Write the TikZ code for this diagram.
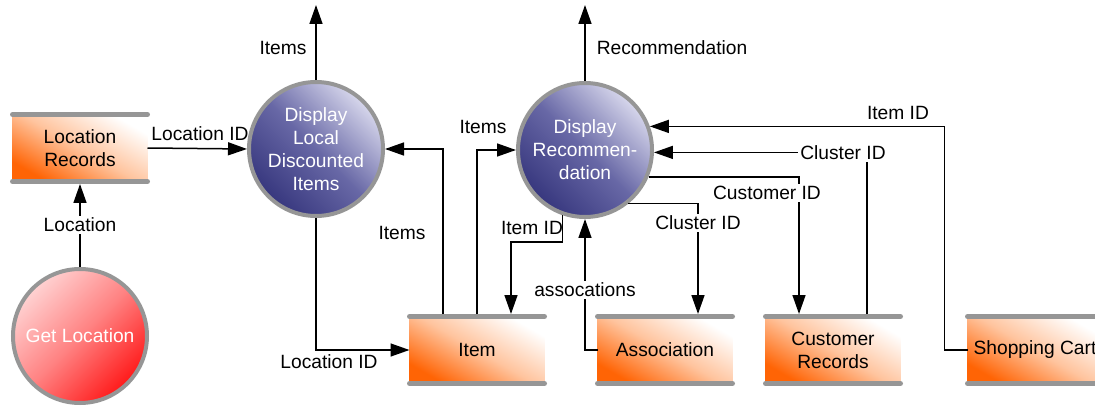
\documentclass[tikz,border=0pt]{standalone}
\usepackage{fontspec}
\setmainfont{Liberation Sans}
\usetikzlibrary{arrows.meta}

\definecolor{ringgray}{RGB}{150,150,150}
\definecolor{bargray}{RGB}{150,150,150}
\definecolor{bluelight}{RGB}{215,215,236}
\definecolor{bluemid}{RGB}{104,104,166}
\definecolor{bluedark}{RGB}{55,55,126}
\definecolor{redlight}{RGB}{255,210,210}
\definecolor{redmid}{RGB}{255,130,130}
\definecolor{redstrong}{RGB}{255,25,25}
\definecolor{orangestrong}{RGB}{255,100,5}
\definecolor{orangemid}{RGB}{255,196,158}

\begin{document}
\begin{tikzpicture}[x=1pt,y=-1pt,
  txt/.style={font=\fontsize{19.2}{23}\selectfont},
  proc/.style={circle, minimum size=134pt, inner sep=0pt, outer sep=2pt,
    draw=ringgray, line width=4pt, align=center, text=white, txt},
  procblue/.style={proc, top color=bluelight, bottom color=bluedark,
    middle color=bluemid, shading angle=-45},
  procred/.style={proc, top color=redlight, bottom color=redstrong,
    middle color=redmid, shading angle=45},
  store/.style={rectangle, minimum width=135pt, minimum height=67pt,
    inner sep=0pt, outer xsep=0pt, outer ysep=2.5pt, align=center, txt,
    top color=white, bottom color=orangestrong, middle color=orangemid,
    shading angle=-30},
  bar/.style={draw=bargray, line width=5pt, line cap=round},
  flow/.style={draw=black, line width=1.5pt,
    -{Triangle[length=19pt,width=13pt]}},
  lbl/.style={txt, inner sep=1pt},
  lblw/.style={lbl, fill=white, inner sep=2pt},
]
\useasboundingbox (0,0) rectangle (1095,406);
\clip (0,0) rectangle (1095,406);

% processes
\node[procred]  (getloc) at (80,336)  {Get Location};
\node[procblue] (dldi)   at (316,149) {Display\\Local\\Discounted\\Items};
\node[procblue] (dr)     at (585,150) {Display\\Recommen-\\dation};

% data stores
\node[store] (locrec)  at (80,148)   {Location\\Records};
\node[store] (item)    at (477,350)  {Item};
\node[store] (assoc)   at (665,350)  {Association};
\node[store] (custrec) at (833,350)  {Customer\\Records};
\node[store] (cart)    at (1035,350) {Shopping Cart};

\foreach \s in {locrec,item,assoc,custrec,cart}{
  \draw[bar] ([yshift=-2.5pt]\s.north west) -- ([yshift=-2.5pt]\s.north east);
  \draw[bar] ([yshift=2.5pt]\s.south west) -- ([yshift=2.5pt]\s.south east);
}

% outputs leaving the top
\coordinate (itemsout) at (316,5);
\coordinate (recout)   at (585,5);
\draw[flow] (dldi.north) -- (itemsout);
\draw[flow] (dr.north) -- (recout);

% data flows
\draw[flow] (getloc.north) -- (locrec.south);
\draw[flow] (locrec.east) -- (dldi.west);
\draw[flow] (dldi.south) |- (item.west);
\draw[flow] ([xshift=-34pt]item.north) |- (dldi.east);
\draw[flow] (item.north) |- (dr.west);
\draw[flow] (dr.251) -- ++(0,27) -| ([xshift=34pt]item.north);
\draw[flow] (assoc.west) -| (dr.south);
\draw[flow] (dr.-51) -| ([xshift=33pt]assoc.north);
\draw[flow] (dr.-23) -| ([xshift=-34pt]custrec.north);
\draw[flow] ([xshift=34pt]custrec.north) |- (dr.-2);
\draw[flow] (cart.west) -- ++(-23,0) |- (dr.20);

% flow labels
\node[lbl]  (l1)  at (283,48)  {Items};
\node[lbl]  (l2)  at (672,48)  {Recommendation};
\node[lbl]  (l3)  at (200,134) {Location ID};
\node[lblw] (l4)  at (80,225)  {Location};
\node[lbl]  (l5)  at (329,362) {Location ID};
\node[lbl]  (l6)  at (402,233) {Items};
\node[lbl]  (l7)  at (483,127) {Items};
\node[lbl]  (l8)  at (532,228) {Item ID};
\node[lblw] (l9)  at (585,290) {assocations};
\node[lblw] (l10) at (698,223) {Cluster ID};
\node[lblw] (l11) at (767,193) {Customer ID};
\node[lblw] (l12) at (843,153) {Cluster ID};
\node[lbl]  (l13) at (898,113) {Item ID};
\end{tikzpicture}
\end{document}
